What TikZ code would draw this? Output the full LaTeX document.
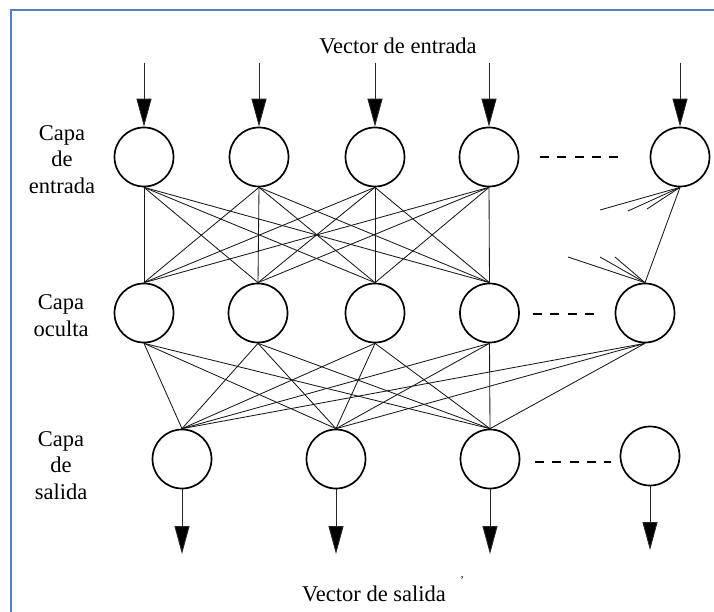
\documentclass[tikz,border=0pt]{standalone}
\usepackage{fontspec}
\setmainfont{Liberation Serif}
\usetikzlibrary{arrows.meta}
\definecolor{framecol}{HTML}{4F81BD}
\begin{document}
\begin{tikzpicture}[x=1pt,y=-1pt,
  neuron/.style={circle,draw,line width=1.7pt,minimum size=59pt,inner sep=0pt},
  link/.style={line width=0.85pt,black!90},
  feed/.style={line width=0.9pt,black!85,-{Triangle[width=15pt,length=28pt,fill=black]}},
  gapdash/.style={line width=2.4pt,dash pattern=on 9pt off 8.25pt},
  lbl/.style={font=\fontsize{22.5}{26.5}\selectfont,align=center,inner sep=0pt},
  frame/.style={draw=framecol,line width=2pt}]
\useasboundingbox (0,0) rectangle (714,612);

% outer frame
\draw[frame] (11,612) -- (11,10) -- (714,10);

% titles
\node[lbl,anchor=base] (vin) at (398,54) {Vector de entrada};
\node[lbl,anchor=base] (vout) at (374,601) {Vector de salida};
\node[lbl,anchor=base] (tick) at (462,584) {\fontsize{12}{12}\selectfont'};

% layer labels
\node[lbl] (lin) at (62,159.4) {Capa\\de\\entrada};
\node[lbl] (lhid) at (61,315.7) {Capa\\oculta};
\node[lbl] (lout) at (61,465.4) {Capa\\de\\salida};

% input layer
\node[neuron] (i1) at (144,157) {};
\node[neuron] (i2) at (259,157) {};
\node[neuron] (i3) at (375,157) {};
\node[neuron] (i4) at (489,157) {};
\node[neuron] (i5) at (680,157) {};

% hidden layer
\node[neuron] (h1) at (144,313) {};
\node[neuron] (h2) at (258,313) {};
\node[neuron] (h3) at (375,313) {};
\node[neuron] (h4) at (489.5,313) {};
\node[neuron] (h5) at (645,313) {};

% output layer
\node[neuron] (o1) at (182,459) {};
\node[neuron] (o2) at (336,459) {};
\node[neuron] (o3) at (490,459) {};
\node[neuron] (o4) at (650,456) {};

% ellipses between neurons
\draw[gapdash] (540,157) -- (618,157);
\draw[gapdash] (533,314) -- (596,314);
\draw[gapdash] (535,462) -- (611,462);

% input vector arrows
\foreach \n/\x in {1/144,2/259,3/375,4/489,5/680}{
  \coordinate (a\n) at (\x,63);
  \draw[feed] (a\n) -- (i\n);
}

% output vector arrows
\coordinate (b1) at (182,554);
\coordinate (b2) at (336,554);
\coordinate (b3) at (490,554);
\coordinate (b4) at (650,550);
\foreach \n in {1,...,4}{
  \draw[feed] (o\n) -- (b\n);
}

% input -> hidden weights
\foreach \a in {1,...,4}{
  \foreach \b in {1,...,4}{
    \draw[link] (i\a.south) -- (h\b.north);
  }
}
\draw[link] (i5.south) -- (h5.north);

% truncated weights near the last neurons
\coordinate (s1) at (600,210);
\coordinate (s2) at (628,211);
\coordinate (s3) at (647,209);
\coordinate (t1) at (568,257);
\coordinate (t2) at (600,257);
\coordinate (t3) at (615,257);
\foreach \k in {1,2,3}{
  \draw[link] (i5.south) -- (s\k);
  \draw[link] (t\k) -- (h5.north);
}

% hidden -> output weights
\foreach \a in {1,...,5}{
  \foreach \b in {1,2,3}{
    \draw[link] (h\a.south) -- (o\b.north);
  }
}
\end{tikzpicture}
\end{document}
